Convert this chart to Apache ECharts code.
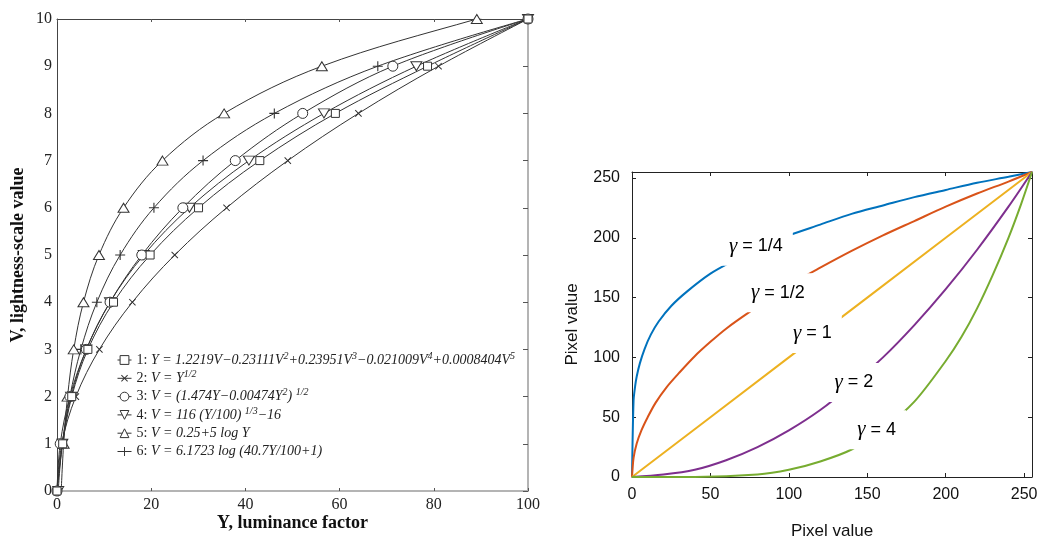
<!DOCTYPE html>
<html><head><meta charset="utf-8">
<script src="https://cdn.jsdelivr.net/npm/echarts/dist/echarts.min.js"></script>
<style>html,body{margin:0;padding:0;background:#fff}#c{width:1038px;height:536px}</style>
</head><body><div id="c"></div>
<script>
// ---------------- Left panel: lightness V vs luminance factor Y ----------------
const vLevels = [0, 1, 2, 3, 4, 5, 6, 7, 8, 9, 10];
// Y values (luminance factor) at which each curve reaches V = 0..10
const s1Y = [0, 1.21, 3.13, 6.56, 12.00, 19.77, 30.05, 43.06, 59.10, 78.67, 100];
const s2Y = [0, 1, 4, 9, 16, 25, 36, 49, 64, 81, 100];
const s3Y = [0, 0.68, 2.74, 6.23, 11.26, 18.00, 26.72, 37.85, 52.17, 71.30, 100];
const s4Y = [0.26, 1.13, 2.99, 6.24, 11.25, 18.42, 28.12, 40.75, 56.68, 76.30, 100];
const s5Y = [0.89, 1.41, 2.24, 3.55, 5.62, 8.91, 14.13, 22.39, 35.48, 56.23, 89.13];
const s5End = [100, 10.25];
const s6Y = [0, 1.11, 2.73, 5.07, 8.46, 13.41, 20.58, 31.01, 46.14, 68.11, 100];
const leftNames = ['1', '2', '3', '4', '5', '6'];
const leftLegend = {
  '1': '{n|1:} Y = 1.2219V\u22120.23111V{s|2}+0.23951V{s|3}\u22120.021009V{s|4}+0.0008404V{s|5}',
  '2': '{n|2:} V = Y{s|1/2}',
  '3': '{n|3:} V = (1.474Y\u22120.00474Y{s|2}) {s|1/2}',
  '4': '{n|4:} V = 116 (Y/100) {s|1/3}\u221216',
  '5': '{n|5:} V = 0.25+5 log Y',
  '6': '{n|6:} V = 6.1723 log (40.7Y/100+1)'
};
const xTitleL = 'Y, luminance factor';
const yTitleL = 'V, lightness-scale value';

// ---------------- Right panel: gamma curves ----------------
const g14X = [0, 1, 2, 3, 5, 8, 12, 17, 25, 35, 50, 65, 80, 100, 120, 140, 160, 180, 200, 220, 240, 255];
const g14Y = [0, 64, 76, 84, 95, 107, 119, 130, 143, 155, 170, 181, 191, 202, 211, 220, 227, 234, 240, 246, 251, 255];
const g12X = [0, 1, 3, 6, 10, 15, 22, 30, 40, 50, 60, 75, 90, 105, 120, 140, 160, 180, 200, 220, 240, 255];
const g12Y = [0, 16, 28, 39, 50, 62, 75, 87, 101, 113, 124, 138, 151, 164, 175, 189, 202, 214, 226, 237, 247, 255];
const g1X = [0, 50, 100, 150, 200, 255];
const g1Y = [0, 50, 100, 150, 200, 255];
const g2X = [0, 20, 40, 60, 80, 100, 120, 140, 160, 180, 200, 220, 240, 255];
const g2Y = [0, 2, 6, 14, 25, 39, 56, 77, 100, 127, 157, 190, 226, 255];
const g4X = [0, 40, 80, 100, 120, 140, 160, 180, 200, 210, 220, 230, 240, 248, 255];
const g4Y = [0, 0, 2, 6, 13, 23, 40, 63, 97, 117, 141, 169, 200, 228, 255];
const gammaLabels = ['1/4', '1/2', '1', '2', '4'];
const gammaLabelAt = [[79, 193], [93, 154], [115, 120], [141.5, 79], [156, 39.5]];
const xTitleR = 'Pixel value';
const yTitleR = 'Pixel value';

// ---------------- build ----------------
const serif = 'Liberation Serif';
const sans = 'Liberation Sans';
const ink = '#333';
const plusPath = 'path://M0,4.45H10V5.55H0Z M4.45,0H5.55V10H4.45Z';
const pair = (xs, ys) => xs.map((x, i) => [x, ys[i]]);
const leftPair = ys => ys.map((y, i) => [y, vLevels[i]]);

const hollow = {color: '#fff', borderColor: ink, borderWidth: 1};
const solid = {color: ink, borderWidth: 0};
function leftSeries(name, data, symbol, size, itemStyle, rotate) {
  return {
    name, type: 'line', xAxisIndex: 0, yAxisIndex: 0, data,
    symbol, symbolSize: size, symbolRotate: rotate || 0, showSymbol: true,
    smooth: 0.35, lineStyle: {color: ink, width: 1}, itemStyle,
    emphasis: {disabled: true}, z: 3
  };
}
const s5Data = leftPair(s5Y).map((p, i) => i === 0 ? {value: p, symbol: 'none'} : p);
s5Data.push({value: s5End, symbol: 'none'});

const gammaColors = ['#0072BD', '#D95319', '#EDB120', '#7E2F8E', '#77AC30'];
const gammaData = [pair(g14X, g14Y), pair(g12X, g12Y), pair(g1X, g1Y), pair(g2X, g2Y), pair(g4X, g4Y)];
const rightSeries = gammaData.map((d, i) => ({
  name: 'g' + i, type: 'line', xAxisIndex: 2, yAxisIndex: 2, data: d,
  symbol: 'none', smooth: i === 2 ? false : 0.3,
  lineStyle: {color: gammaColors[i], width: 2}, itemStyle: {color: gammaColors[i]},
  emphasis: {disabled: true},
  markPoint: {
    symbol: 'rect', symbolSize: 1, itemStyle: {color: 'rgba(0,0,0,0)'}, z: 10,
    silent: true,
    data: [{coord: gammaLabelAt[i], label: {
      show: true, position: 'inside',
      formatter: '{g|\u03b3} = ' + gammaLabels[i],
      backgroundColor: '#fff', padding: [9, 10],
      fontFamily: sans, fontSize: 18, color: '#000',
      rich: {g: {fontFamily: serif, fontStyle: 'italic', fontSize: 21, color: '#000'}}
    }}]
  }
}));

const leftAxisLabel = {fontFamily: serif, fontSize: 16, color: '#222'};
const rightAxisLabel = {fontFamily: sans, fontSize: 16, color: '#111'};
const hide50 = v => (v % 50 === 0 ? String(v) : '');

const option = {
  backgroundColor: '#fff',
  animation: false,
  grid: [
    {left: 57, top: 19, width: 471, height: 472, outerBoundsMode: 'none', containLabel: false},
    {left: 632, top: 172, width: 400, height: 305, outerBoundsMode: 'none', containLabel: false}
  ],
  legend: {
    data: leftNames, orient: 'vertical', left: 112, top: 346,
    itemWidth: 14, itemHeight: 11, itemGap: 0.3, selectedMode: false,
    itemStyle: {borderWidth: 1}, lineStyle: {width: 1},
    formatter: n => leftLegend[n],
    textStyle: {
      fontFamily: serif, fontStyle: 'italic', fontSize: 14, color: '#222', lineHeight: 18,
      rich: {
        n: {fontFamily: serif, fontStyle: 'normal', fontSize: 14, color: '#222', lineHeight: 18},
        s: {fontFamily: serif, fontStyle: 'italic', fontSize: 10, color: '#222', lineHeight: 9, verticalAlign: 'top'}
      }
    }
  },
  xAxis: [
    {gridIndex: 0, type: 'value', min: 0, max: 100, interval: 20, position: 'bottom',
     axisLine: {show: true, onZero: false, lineStyle: {color: '#b4b4b4', width: 2}},
     axisTick: {show: true, inside: true, length: 3, lineStyle: {color: '#555'}},
     axisLabel: Object.assign({margin: 6}, leftAxisLabel), splitLine: {show: false},
     name: xTitleL, nameLocation: 'middle', nameGap: 23, nameMoveOverlap: false,
     nameTextStyle: {fontFamily: serif, fontWeight: 'bold', fontSize: 18, color: '#111'}},
    {gridIndex: 0, type: 'value', min: 0, max: 100, interval: 20, position: 'top',
     axisLine: {show: true, onZero: false, lineStyle: {color: '#444', width: 1}},
     axisTick: {show: true, inside: true, length: 3, lineStyle: {color: '#555'}},
     axisLabel: {show: false}, splitLine: {show: false}},
    {gridIndex: 1, type: 'value', min: 0, max: 255, interval: 50, position: 'bottom',
     axisLine: {show: true, onZero: false, lineStyle: {color: '#222', width: 1}},
     axisTick: {show: true, inside: true, length: 4, lineStyle: {color: '#222'}},
     axisLabel: Object.assign({margin: 10, formatter: hide50}, rightAxisLabel), splitLine: {show: false},
     name: xTitleR, nameLocation: 'middle', nameGap: 46, nameMoveOverlap: false,
     nameTextStyle: {fontFamily: sans, fontSize: 17, color: '#111'}},
    {gridIndex: 1, type: 'value', min: 0, max: 255, interval: 50, position: 'top',
     axisLine: {show: true, onZero: false, lineStyle: {color: '#222', width: 1}},
     axisTick: {show: true, inside: true, length: 4, lineStyle: {color: '#222'}},
     axisLabel: {show: false}, splitLine: {show: false}}
  ],
  yAxis: [
    {gridIndex: 0, type: 'value', min: 0, max: 10, interval: 1, position: 'left',
     axisLine: {show: true, onZero: false, lineStyle: {color: '#444', width: 1}},
     axisTick: {show: false},
     axisLabel: Object.assign({margin: 5}, leftAxisLabel), splitLine: {show: false},
     name: yTitleL, nameLocation: 'middle', nameGap: 30, nameMoveOverlap: false,
     nameTextStyle: {fontFamily: serif, fontWeight: 'bold', fontSize: 18, color: '#111'}},
    {gridIndex: 0, type: 'value', min: 0, max: 10, interval: 1, position: 'right',
     axisLine: {show: true, onZero: false, lineStyle: {color: '#b4b4b4', width: 2}},
     axisTick: {show: true, inside: true, length: 5, lineStyle: {color: '#555'}},
     axisLabel: {show: false}, splitLine: {show: false}},
    {gridIndex: 1, type: 'value', min: 0, max: 255, interval: 50, position: 'left',
     axisLine: {show: true, onZero: false, lineStyle: {color: '#222', width: 1}},
     axisTick: {show: true, inside: true, length: 4, lineStyle: {color: '#222'}},
     axisLabel: Object.assign({margin: 12, formatter: hide50}, rightAxisLabel), splitLine: {show: false},
     name: yTitleR, nameLocation: 'middle', nameGap: 51, nameMoveOverlap: false,
     nameTextStyle: {fontFamily: sans, fontSize: 17, color: '#111'}},
    {gridIndex: 1, type: 'value', min: 0, max: 255, interval: 50, position: 'right',
     axisLine: {show: true, onZero: false, lineStyle: {color: '#222', width: 1}},
     axisTick: {show: true, inside: true, length: 4, lineStyle: {color: '#222'}},
     axisLabel: {show: false}, splitLine: {show: false}}
  ],
  series: [
    leftSeries('6', leftPair(s6Y), plusPath, 10, solid),
    leftSeries('5', s5Data, 'triangle', [11, 9], hollow),
    leftSeries('4', leftPair(s4Y), 'triangle', [11, 9], hollow, 180),
    leftSeries('3', leftPair(s3Y), 'circle', 10, hollow),
    leftSeries('2', leftPair(s2Y), plusPath, 9, solid, 45),
    leftSeries('1', leftPair(s1Y), 'rect', 8, hollow)
  ].concat(rightSeries)
};

const chart = echarts.init(document.getElementById('c'), null, {renderer: 'canvas'});
chart.setOption(option);
</script>
</body></html>
